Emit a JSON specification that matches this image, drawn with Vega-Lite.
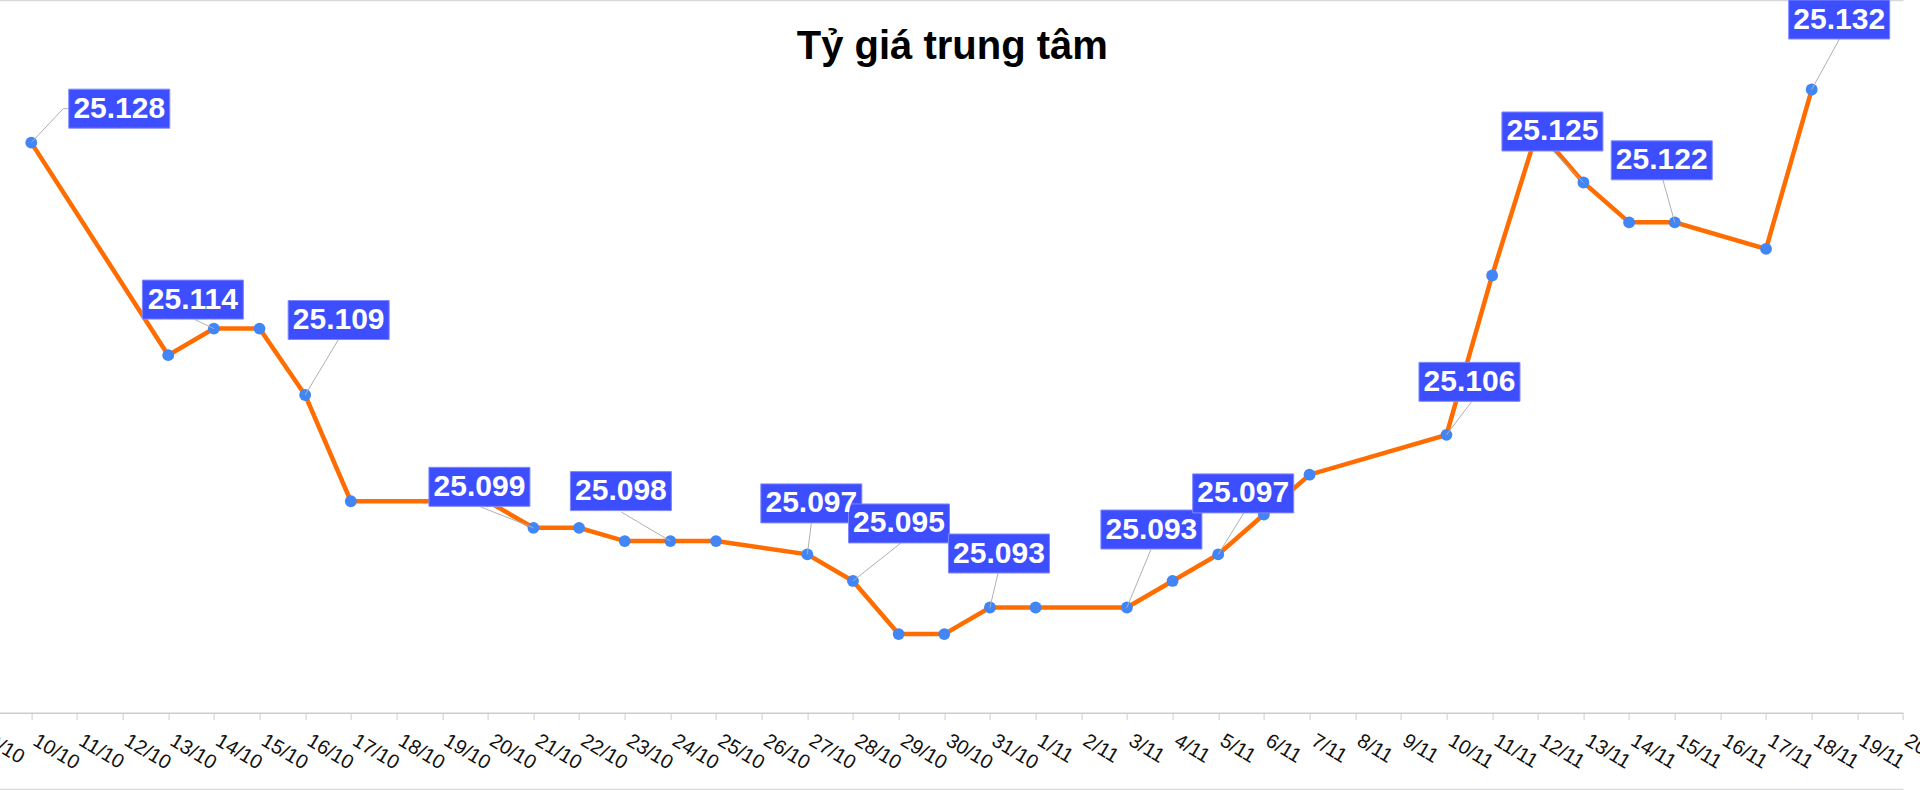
{
  "$schema": "https://vega.github.io/schema/vega-lite/v6.json",
  "width": 1917.4,
  "height": 642.7,
  "autosize": {"type": "none"},
  "padding": {"left": -14.4, "top": 70, "right": 17, "bottom": 77.3},
  "background": "white",
  "config": {
    "view": {"stroke": null},
    "locale": {"number": {"decimal": ",", "thousands": ".", "grouping": [3], "currency": ["", " ₫"]}},
    "font": "Liberation Sans"
  },
  "title": {
    "text": "Tỷ giá trung tâm",
    "font": "Liberation Sans",
    "fontSize": 40,
    "fontWeight": "bold",
    "color": "#000000",
    "anchor": "middle",
    "baseline": "alphabetic",
    "offset": -101,
    "dx": 8
  },
  "data": {
    "values": [
      {"date": "10/10", "value": 25128},
      {"date": "13/10", "value": 25112},
      {"date": "14/10", "value": 25114},
      {"date": "15/10", "value": 25114},
      {"date": "16/10", "value": 25109},
      {"date": "17/10", "value": 25101},
      {"date": "20/10", "value": 25101},
      {"date": "21/10", "value": 25099},
      {"date": "22/10", "value": 25099},
      {"date": "23/10", "value": 25098},
      {"date": "24/10", "value": 25098},
      {"date": "25/10", "value": 25098},
      {"date": "27/10", "value": 25097},
      {"date": "28/10", "value": 25095},
      {"date": "29/10", "value": 25091},
      {"date": "30/10", "value": 25091},
      {"date": "31/10", "value": 25093},
      {"date": "1/11", "value": 25093},
      {"date": "3/11", "value": 25093},
      {"date": "4/11", "value": 25095},
      {"date": "5/11", "value": 25097},
      {"date": "6/11", "value": 25100},
      {"date": "7/11", "value": 25103},
      {"date": "10/11", "value": 25106},
      {"date": "11/11", "value": 25118},
      {"date": "12/11", "value": 25129},
      {"date": "13/11", "value": 25125},
      {"date": "14/11", "value": 25122},
      {"date": "15/11", "value": 25122},
      {"date": "17/11", "value": 25120},
      {"date": "18/11", "value": 25132}
    ]
  },
  "encoding": {
    "x": {
      "field": "date",
      "type": "ordinal",
      "sort": ["9/10","10/10","11/10","12/10","13/10","14/10","15/10","16/10","17/10","18/10","19/10","20/10","21/10","22/10","23/10","24/10","25/10","26/10","27/10","28/10","29/10","30/10","31/10","1/11","2/11","3/11","4/11","5/11","6/11","7/11","8/11","9/11","10/11","11/11","12/11","13/11","14/11","15/11","16/11","17/11","18/11","19/11","20/11"],
      "scale": {
        "type": "point",
        "padding": 0,
        "domain": ["9/10","10/10","11/10","12/10","13/10","14/10","15/10","16/10","17/10","18/10","19/10","20/10","21/10","22/10","23/10","24/10","25/10","26/10","27/10","28/10","29/10","30/10","31/10","1/11","2/11","3/11","4/11","5/11","6/11","7/11","8/11","9/11","10/11","11/11","12/11","13/11","14/11","15/11","16/11","17/11","18/11","19/11","20/11"]
      },
      "axis": {
        "title": null,
        "labelAngle": 31,
        "labelAlign": "left",
        "labelBaseline": "alphabetic",
        "labelFont": "Liberation Sans",
        "labelFontSize": 20,
        "labelColor": "#111111",
        "labelPadding": 24,
        "labelOverlap": false,
        "labelBound": false,
        "tickSize": 7,
        "tickColor": "#cccccc",
        "domainColor": "#cccccc",
        "domainWidth": 1.5,
        "grid": false
      }
    },
    "y": {
      "field": "value",
      "type": "quantitative",
      "scale": {"domain": [25085.08, 25133.47], "nice": false, "zero": false},
      "axis": null
    }
  },
  "resolve": {"scale": {"shape": "independent"}, "axis": {"x": "independent"}},
  "layer": [
    {
      "mark": {"type": "line", "color": "#ff6d01", "strokeWidth": 4.5}
    },
    {
      "mark": {"type": "circle", "size": 140, "color": "#4285f4", "opacity": 1},
      "encoding": {
        "x": {
          "field": "date",
          "type": "ordinal",
          "sort": ["9/10","10/10","11/10","12/10","13/10","14/10","15/10","16/10","17/10","18/10","19/10","20/10","21/10","22/10","23/10","24/10","25/10","26/10","27/10","28/10","29/10","30/10","31/10","1/11","2/11","3/11","4/11","5/11","6/11","7/11","8/11","9/11","10/11","11/11","12/11","13/11","14/11","15/11","16/11","17/11","18/11","19/11","20/11"],
          "axis": {"orient": "top", "offset": 70, "title": null, "labels": false, "ticks": false, "grid": false, "domain": true, "domainColor": "#d9d9d9", "domainWidth": 1.5}
        }
      }
    },
    {
      "transform": [{"filter": {"field": "date", "oneOf": ["10/10","14/10","16/10","21/10","24/10","27/10","28/10","31/10","3/11","5/11","10/11","13/11","15/11","18/11"]}}],
      "mark": {"type": "point", "filled": false, "size": 4, "stroke": "#b0b0b0", "strokeWidth": 1, "opacity": 1},
      "encoding": {
        "x": {
          "field": "date",
          "type": "ordinal",
          "sort": ["9/10","10/10","11/10","12/10","13/10","14/10","15/10","16/10","17/10","18/10","19/10","20/10","21/10","22/10","23/10","24/10","25/10","26/10","27/10","28/10","29/10","30/10","31/10","1/11","2/11","3/11","4/11","5/11","6/11","7/11","8/11","9/11","10/11","11/11","12/11","13/11","14/11","15/11","16/11","17/11","18/11","19/11","20/11"],
          "axis": {"orient": "bottom", "offset": 76.3, "title": null, "labels": false, "ticks": false, "grid": false, "domain": true, "domainColor": "#d9d9d9", "domainWidth": 1.5}
        },
        "shape": {
          "field": "date",
          "type": "nominal",
          "legend": null,
          "scale": {
            "domain": ["10/10","14/10","16/10","21/10","24/10","27/10","28/10","31/10","3/11","5/11","10/11","13/11","15/11","18/11"],
            "range": ["M0,0L32,-34L38,-34", "M0,0L-19,-9", "M0,0L33,-55", "M0,0L-53,-21", "M0,0L-49,-29", "M0,0L4,-31", "M0,0L48,-38", "M0,0L8,-34", "M0,0L24,-58", "M0,0L26,-42", "M0,0L25,-33", "M0,0L-31,-32", "M0,0L-12,-43", "M0,0L28,-51"]
          }
        }
      }
    },
    {
      "transform": [{"filter": {"field": "date", "oneOf": ["10/10","14/10","16/10","21/10","24/10","27/10","28/10","31/10","3/11","5/11","10/11","13/11","15/11","18/11"]}}],
      "mark": {"type": "point", "filled": true, "size": 4, "fill": "#3d4eff", "stroke": "#7f89ff", "strokeWidth": 1, "opacity": 1},
      "encoding": {
        "x": {
          "field": "date",
          "type": "ordinal",
          "sort": ["9/10","10/10","11/10","12/10","13/10","14/10","15/10","16/10","17/10","18/10","19/10","20/10","21/10","22/10","23/10","24/10","25/10","26/10","27/10","28/10","29/10","30/10","31/10","1/11","2/11","3/11","4/11","5/11","6/11","7/11","8/11","9/11","10/11","11/11","12/11","13/11","14/11","15/11","16/11","17/11","18/11","19/11","20/11"],
          "axis": null
        },
        "shape": {
          "field": "date",
          "type": "nominal",
          "legend": null,
          "scale": {
            "domain": ["10/10","14/10","16/10","21/10","24/10","27/10","28/10","31/10","3/11","5/11","10/11","13/11","15/11","18/11"],
            "range": ["M37.5,-53.5h101v39h-101z", "M-71.5,-48.5h101v39h-101z", "M-17,-94.5h101v39h-101z", "M-104.5,-60.5h101v39h-101z", "M-100,-69.5h101v39h-101z", "M-46.5,-70.5h101v39h-101z", "M-4.5,-77h101v39h-101z", "M-41.5,-73.5h101v39h-101z", "M-26,-97.5h101v39h-101z", "M-25.5,-80.5h101v39h-101z", "M-27.5,-72.5h101v39h-101z", "M-81.5,-70.5h101v39h-101z", "M-63.5,-81.5h101v39h-101z", "M-23,-89.5h101v39h-101z"]
          }
        }
      }
    },
    {
      "transform": [{"filter": {"field": "date", "oneOf": ["10/10","14/10","16/10","21/10","24/10","27/10","28/10","31/10","3/11","5/11","10/11","13/11","15/11","18/11"]}}],
      "mark": {
        "type": "text",
        "font": "Liberation Sans",
        "fontSize": 30,
        "fontWeight": "bold",
        "color": "#ffffff",
        "align": "center",
        "baseline": "middle",
        "dx": {"expr": "({'10/10':88,'14/10':-21,'16/10':33.5,'21/10':-54,'24/10':-49.5,'27/10':4,'28/10':46,'31/10':9,'3/11':24.5,'5/11':25,'10/11':23,'13/11':-31,'15/11':-13,'18/11':27.5})[datum.date]"},
        "dy": {"expr": "({'10/10':-34,'14/10':-29,'16/10':-75,'21/10':-41,'24/10':-50,'27/10':-51,'28/10':-57.5,'31/10':-54,'3/11':-78,'5/11':-61,'10/11':-53,'13/11':-51,'15/11':-62,'18/11':-70})[datum.date]"}
      },
      "encoding": {
        "x": {
          "field": "date",
          "type": "ordinal",
          "sort": ["9/10","10/10","11/10","12/10","13/10","14/10","15/10","16/10","17/10","18/10","19/10","20/10","21/10","22/10","23/10","24/10","25/10","26/10","27/10","28/10","29/10","30/10","31/10","1/11","2/11","3/11","4/11","5/11","6/11","7/11","8/11","9/11","10/11","11/11","12/11","13/11","14/11","15/11","16/11","17/11","18/11","19/11","20/11"],
          "axis": null
        },
        "text": {"field": "value", "type": "quantitative", "format": ",d"}
      }
    }
  ]
}
